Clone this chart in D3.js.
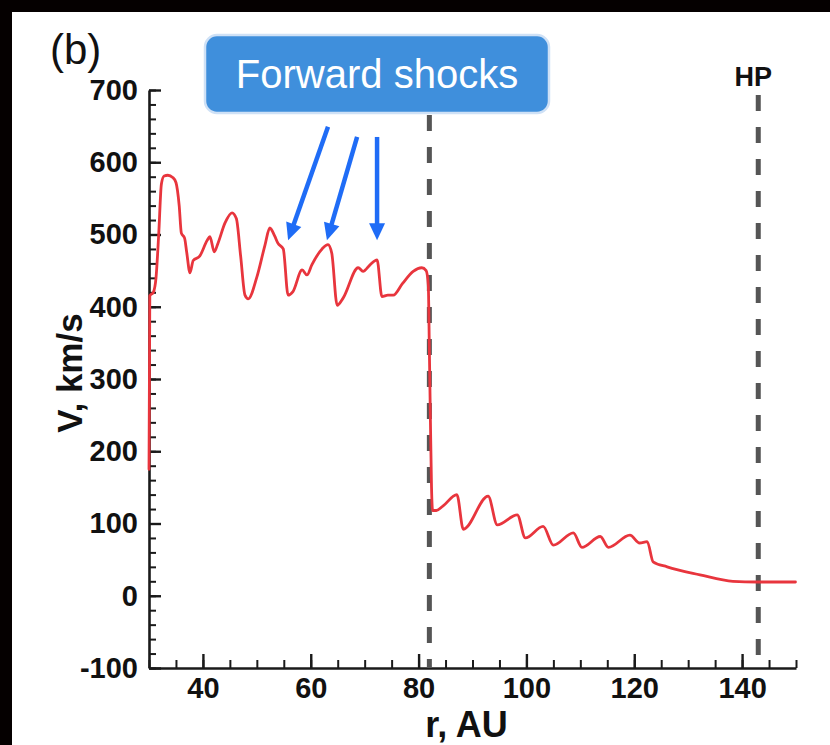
<!DOCTYPE html>
<html>
<head>
<meta charset="utf-8">
<script src="https://cdn.jsdelivr.net/npm/d3@7/dist/d3.min.js"></script>
<style>
  html, body { margin: 0; padding: 0; background: #050000; }
  svg { display: block; }
</style>
</head>
<body>
<svg id="chart" width="830" height="745"></svg>
<script>
// Solar wind speed along the radial line, r in AU, V in km/s
const radius = [30.0, 30.15, 30.8, 31.3, 31.8, 32.3, 32.8, 33.5, 34.4, 35.0, 35.6, 36.0, 36.6, 37.0, 37.6, 38.2, 39.4, 40.8, 41.3, 42.1, 42.8, 44.1, 45.4, 46.2, 47.0, 47.8, 48.4, 50.0, 51.5, 52.4, 53.3, 53.9, 54.9, 55.8, 56.7, 58.4, 59.3, 60.2, 62.1, 63.2, 63.9, 64.9, 66.0, 68.8, 69.7, 71.0, 72.3, 73.2, 74.3, 75.3, 77.0, 79.0, 80.6, 81.4, 81.8, 82.0, 82.2, 82.4, 82.6, 83.3, 84.5, 87.1, 88.3, 92.9, 94.6, 98.3, 99.8, 103.1, 105.0, 108.7, 110.3, 113.7, 115.2, 119.2, 121.0, 122.4, 123.5, 126.1, 132.2, 138.3, 142.8, 149.9];
const speed  = [175, 415, 420, 440, 500, 570, 581, 582, 579, 572, 540, 502, 495, 475, 447, 464, 470, 492, 497, 476, 488, 516, 530, 522, 470, 416, 411, 441, 485, 509, 498, 488, 480, 416, 421, 451, 444, 458, 480, 486, 474, 402, 412, 454, 449, 458, 465, 414, 416, 416, 432, 449, 454, 450, 430, 340, 240, 150, 118, 118, 124, 140, 92, 138, 98, 112, 80, 96, 70, 87, 67, 82, 67, 84, 73, 75, 47, 40, 29, 20, 19, 19];

// Axis ticks
const xTicks = [40, 60, 80, 100, 120, 140];
const xMinorTicks = d3.range(30, 151, 5);
const yTicks = [-100, 0, 100, 200, 300, 400, 500, 600, 700];
const yMinorTicks = d3.range(-100, 701, 20);

// Termination shock and heliopause positions (AU)
const boundaryR = [82, 143];
const boundaryLabels = ["", "HP"];

// Arrows from the annotation box to the forward shocks: [r, V]
const arrowFrom = [[63.2, 649], [68.6, 635], [72.3, 635]];
const arrowTo   = [[55.8, 492], [63.0, 492], [72.3, 492]];
const boxText = "Forward shocks";

const svg = d3.select("#chart");
const font = "'Liberation Sans', Arial, Helvetica, sans-serif";

// White panel on the dark frame
svg.append("rect").attr("x", 12).attr("y", 12).attr("width", 818).attr("height", 733).attr("fill", "#ffffff");

const x = d3.scaleLinear().domain([30, 150]).range([149, 796]);
const y = d3.scaleLinear().domain([-100, 700]).range([668, 90]);

const axisColor = "#1a1a1a";
const plain = d => String(d);

// Minor ticks
svg.append("g")
  .attr("transform", `translate(${x.range()[0]},0)`)
  .call(d3.axisLeft(y).tickValues(yMinorTicks).tickSizeInner(-7).tickSizeOuter(0).tickFormat(""))
  .call(g => g.select(".domain").remove())
  .call(g => g.selectAll("line").attr("stroke", axisColor).attr("stroke-width", 2));
svg.append("g")
  .attr("transform", `translate(0,${y.range()[0]})`)
  .call(d3.axisBottom(x).tickValues(xMinorTicks).tickSizeInner(-8).tickSizeOuter(0).tickFormat(""))
  .call(g => g.select(".domain").remove())
  .call(g => g.selectAll("line").attr("stroke", axisColor).attr("stroke-width", 2));

// Major axes
const yAxis = svg.append("g")
  .attr("transform", `translate(${x.range()[0]},0)`)
  .call(d3.axisLeft(y).tickValues(yTicks).tickSizeInner(-12).tickSizeOuter(0).tickPadding(11).tickFormat(plain));
const xAxis = svg.append("g")
  .attr("transform", `translate(0,${y.range()[0]})`)
  .call(d3.axisBottom(x).tickValues(xTicks).tickSizeInner(-14).tickSizeOuter(0).tickPadding(9).tickFormat(plain));

[yAxis, xAxis].forEach(g => {
  g.select(".domain").attr("stroke", axisColor).attr("stroke-width", 2.6);
  g.selectAll(".tick line").attr("stroke", axisColor).attr("stroke-width", 2.4);
  g.selectAll(".tick text")
    .attr("fill", "#111")
    .style("font-family", font)
    .style("font-weight", "bold")
    .style("font-size", "29px");
});

// Axis titles
svg.append("text")
  .attr("x", (x.range()[0] + x.range()[1]) / 2 - 6)
  .attr("y", 737)
  .attr("text-anchor", "middle")
  .attr("fill", "#111")
  .style("font-family", font).style("font-weight", "bold").style("font-size", "36px")
  .text("r, AU");
svg.append("text")
  .attr("transform", `translate(82,${(y(700) + y(-100)) / 2 - 6}) rotate(-90)`)
  .attr("text-anchor", "middle")
  .attr("fill", "#111")
  .style("font-family", font).style("font-weight", "bold").style("font-size", "35px")
  .text("V, km/s");

// Panel label
svg.append("text")
  .attr("x", 50).attr("y", 64)
  .attr("fill", "#111")
  .style("font-family", font).style("font-size", "42px")
  .text("(b)");

// Dashed boundary lines
const dash = "16,16";
svg.selectAll(".boundary")
  .data(boundaryR)
  .join("line")
  .attr("class", "boundary")
  .attr("x1", d => x(d)).attr("x2", d => x(d))
  .attr("y1", (d, i) => i === 0 ? y(700) - 7 : y(700) + 5)
  .attr("y2", y(-100))
  .attr("stroke", "#555")
  .attr("stroke-width", 5)
  .attr("stroke-dasharray", dash);

svg.selectAll(".boundary-label")
  .data(boundaryR)
  .join("text")
  .attr("class", "boundary-label")
  .attr("x", d => x(d) - 5)
  .attr("y", 86)
  .attr("text-anchor", "middle")
  .attr("fill", "#111")
  .style("font-family", font).style("font-weight", "bold").style("font-size", "27px")
  .text((d, i) => boundaryLabels[i]);

// Speed profile
const pts = radius.map((r, i) => [r, speed[i]]);
const line = d3.line().x(d => x(d[0])).y(d => y(d[1])).curve(d3.curveMonotoneX);
svg.append("path")
  .datum(pts)
  .attr("d", line)
  .attr("fill", "none")
  .attr("stroke", "#e8353d")
  .attr("stroke-width", 2.8)
  .attr("stroke-linejoin", "round")
  .attr("stroke-linecap", "round");

// Annotation box
svg.append("rect")
  .attr("x", 205).attr("y", 35).attr("width", 344).attr("height", 78)
  .attr("rx", 12).attr("ry", 12)
  .attr("fill", "#3f8fdc")
  .attr("stroke", "#cfe1f6")
  .attr("stroke-width", 2.5);
svg.append("text")
  .attr("x", 377).attr("y", 88)
  .attr("text-anchor", "middle")
  .attr("fill", "#ffffff")
  .style("font-family", font).style("font-size", "40px")
  .text(boxText);

// Arrows
const arrowColor = "#1f6cf6";
const headLen = 17, headHalf = 8;
arrowFrom.forEach((from, i) => {
  const to = arrowTo[i];
  const x0 = x(from[0]), y0 = y(from[1]), x1 = x(to[0]), y1 = y(to[1]);
  const dx = x1 - x0, dy = y1 - y0, len = Math.hypot(dx, dy);
  const ux = dx / len, uy = dy / len;
  const bx = x1 - ux * headLen, by = y1 - uy * headLen;
  svg.append("line")
    .attr("x1", x0).attr("y1", y0).attr("x2", bx + ux * 2).attr("y2", by + uy * 2)
    .attr("stroke", arrowColor).attr("stroke-width", 4.5);
  svg.append("path")
    .attr("d", `M${x1},${y1} L${bx - uy * headHalf},${by + ux * headHalf} L${bx + uy * headHalf},${by - ux * headHalf} Z`)
    .attr("fill", arrowColor);
});
</script>
</body>
</html>
